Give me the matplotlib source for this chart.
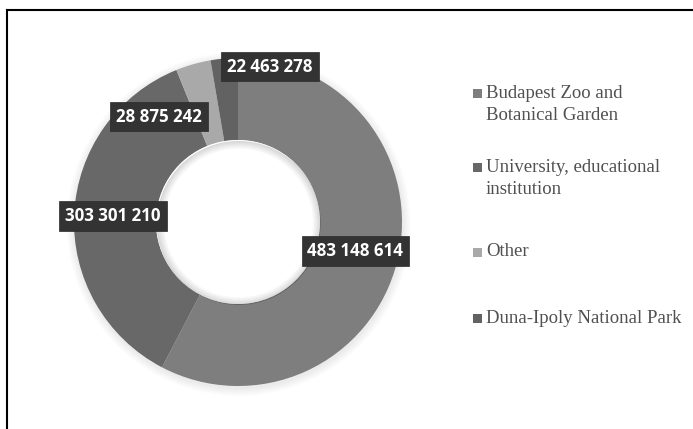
import matplotlib.pyplot as plt
from matplotlib.patches import Circle, Wedge, Rectangle
from matplotlib.lines import Line2D

categories = ["Budapest Zoo and\nBotanical Garden",
              "University, educational\ninstitution",
              "Other",
              "Duna-Ipoly National Park"]
values = [483148614, 303301210, 28875242, 22463278]
colors = ["#7e7e7e", "#686868", "#a9a9a9", "#626262"]

# where each value box sits (data coords of the donut axes)
label_xy = [(0.716, -0.177), (-0.762, 0.037), (-0.482, 0.643), (0.195, 0.948)]
# legend rows, y of first line in pixels from the top
legend_y = [93, 167.5, 252, 318.5]

W, H = 693, 429
fig = plt.figure(figsize=(W / 100, H / 100), dpi=100)
fig.patch.set_facecolor("white")

# donut axes: center (238, 222) px, radius 164 px
cx, cy, R = 238, 222, 164
ax = fig.add_axes([(cx - R) / W, (H - cy - R) / H, 2 * R / W, 2 * R / H])

wedges, _ = ax.pie(values, colors=colors, startangle=90, counterclock=False,
                   radius=1.0, wedgeprops=dict(width=0.5, linewidth=0),
                   normalize=True)
for w in wedges:
    w.set_zorder(2)
ax.set_xlim(-1, 1)
ax.set_ylim(-1, 1)
ax.axis("off")

# soft outer shadow
for i in range(10):
    r = 1.0 + 0.005 * (i + 1)
    ax.add_patch(Circle((0.004, -0.012), r, color="black", alpha=0.008,
                        lw=0, zorder=0, clip_on=False))

# hole stays white, with a faint inner shadow along its rim
ax.add_patch(Circle((0, 0), 0.5, color="white", lw=0, zorder=3))
for i in range(8):
    ax.add_patch(Wedge((0.004, -0.006), 0.5, 0, 360, width=0.006 * (i + 1),
                       color="black", alpha=0.018, lw=0, zorder=4))

# value boxes
for v, (x, y) in zip(values, label_xy):
    txt = f"{v:,}".replace(",", " ")
    ax.text(x, y, txt, ha="center", va="center", color="white",
            fontsize=12.2, fontweight="bold", family="Open Sans", zorder=6,
            bbox=dict(boxstyle="square,pad=0.35", facecolor="#333333",
                      edgecolor="#2a2a2a", linewidth=0.5))

# legend
for name, c, y0 in zip(categories, colors, legend_y):
    fig.patches.append(Rectangle((473 / W, 1 - (y0 + 4.5) / H), 9 / W, 9 / H,
                                 transform=fig.transFigure, facecolor=c,
                                 edgecolor="none"))
    for k, line in enumerate(name.split("\n")):
        fig.text(486 / W, 1 - (y0 + 22 * k) / H, line, ha="left", va="center",
                 fontsize=13.5, family="Liberation Serif", color="#505050")

# frame: top and left rule
fig.add_artist(Line2D([7 / W, 1], [1 - 10 / H, 1 - 10 / H], color="black",
                      lw=1.5, transform=fig.transFigure))
fig.add_artist(Line2D([7 / W, 7 / W], [0, 1 - 10 / H], color="black",
                      lw=1.5, transform=fig.transFigure))

fig.savefig("out.png", dpi=100)
